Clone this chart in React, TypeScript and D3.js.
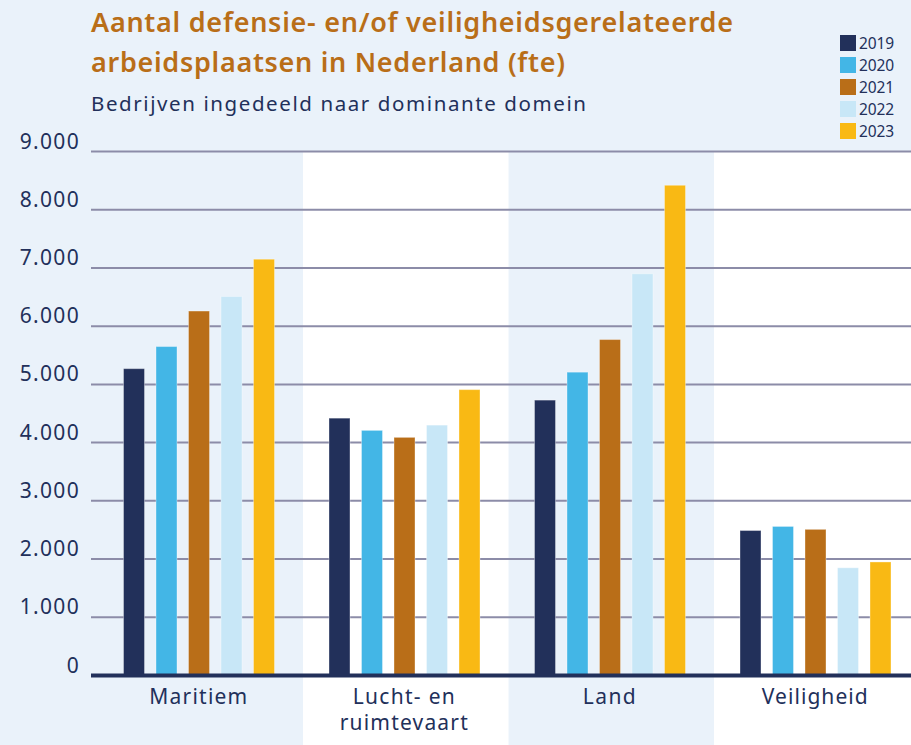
import React from "react";
import * as d3 from "d3";

const categories = ["Maritiem", "Lucht- en ruimtevaart", "Land", "Veiligheid"];
const categoryLabelLines = [["Maritiem"], ["Lucht- en", "ruimtevaart"], ["Land"], ["Veiligheid"]];
const years = ["2019", "2020", "2021", "2022", "2023"];
const values2019 = [5270, 4420, 4730, 2490];
const values2020 = [5650, 4210, 5210, 2560];
const values2021 = [6260, 4090, 5770, 2510];
const values2022 = [6510, 4300, 6900, 1850];
const values2023 = [7150, 4910, 8420, 1950];
const seriesValues = [values2019, values2020, values2021, values2022, values2023];
const yTicks = [0, 1000, 2000, 3000, 4000, 5000, 6000, 7000, 8000, 9000];
const yTickLabels = ["0", "1.000", "2.000", "3.000", "4.000", "5.000", "6.000", "7.000", "8.000", "9.000"];
const colors = ["#22305A", "#43B6E6", "#B96E18", "#C8E7F7", "#F9B914"];
const titleLines = ["Aantal defensie- en/of veiligheidsgerelateerde", "arbeidsplaatsen in Nederland (fte)"];
const subtitle = "Bedrijven ingedeeld naar dominante domein";

const W = 911;
const H = 745;
const NAVY = "#22305A";
const FONT = "'Noto Sans', sans-serif";

// approximate rendered widths of the labels in the reference typeface
const labelWidths: Record<string, number> = {
  "Maritiem": 98,
  "Lucht- en": 102,
  "ruimtevaart": 128,
  "Land": 53,
  "Veiligheid": 106,
};

export default function App() {
  const y = d3.scaleLinear().domain([0, 9000]).range([675.5, 151.5]);
  const x0 = d3.scaleBand().domain(categories).range([97.5, 919.5]).paddingInner(0).paddingOuter(0);
  const x1 = d3.scaleBand().domain(years).range([26, 177]).paddingInner(0.354).paddingOuter(0);

  return (
    <svg width={W} height={H} style={{ position: "absolute", left: 0, top: 0, fontFamily: FONT }}>
      <rect x={0} y={0} width={W} height={H} fill="#EAF2FA" />
      {categories.map((c, i) =>
        i % 2 === 1 ? (
          <rect key={c} x={x0(c)!} y={y(9000)} width={x0.bandwidth()} height={H - y(9000)} fill="#FFFFFF" />
        ) : null
      )}
      {yTicks.slice(1).map((t) => (
        <line key={t} x1={91} x2={W} y1={y(t)} y2={y(t)} stroke="#8C8CA8" strokeWidth={2} />
      ))}
      {yTicks.map((t, i) => (
        <text key={t} x={80} y={y(t) - 3} textAnchor="end" fontSize={21} fill={NAVY} letterSpacing={1.3}>
          {yTickLabels[i]}
        </text>
      ))}
      {categories.map((c, ci) =>
        years.map((yr, si) => {
          const v = seriesValues[si][ci];
          return (
            <rect
              key={c + yr}
              x={x0(c)! + x1(yr)!}
              y={y(v)}
              width={x1.bandwidth()}
              height={y(0) - y(v)}
              fill={colors[si]}
              stroke="#ffffff"
              strokeOpacity={0.35}
              strokeWidth={1}
            />
          );
        })
      )}
      <line x1={91} x2={W} y1={y(0)} y2={y(0)} stroke={NAVY} strokeWidth={4} />
      {categories.map((c, ci) => {
        const cx = x0(c)! + x0.bandwidth() / 2 - 2;
        return categoryLabelLines[ci].map((ln, li) => (
          <text
            key={c + li}
            x={cx}
            y={704 + li * 26}
            textAnchor="middle"
            fontSize={21}
            fill={NAVY}
            textLength={labelWidths[ln]}
            lengthAdjust="spacing"
          >
            {ln}
          </text>
        ));
      })}
      <text x={91} y={32} fontSize={27} fontWeight={600} fill="#B96E18" textLength={642} lengthAdjust="spacing">
        {titleLines[0]}
      </text>
      <text x={91} y={72} fontSize={27} fontWeight={600} fill="#B96E18" textLength={474} lengthAdjust="spacing">
        {titleLines[1]}
      </text>
      <text x={91} y={111} fontSize={20.5} fill={NAVY} textLength={495} lengthAdjust="spacing">
        {subtitle}
      </text>
      {years.map((yr, i) => (
        <g key={yr} transform={`translate(840, ${35 + i * 22})`}>
          <rect x={0} y={0} width={16} height={16} fill={colors[i]} />
          <text x={19} y={14} fontSize={15.5} fill={NAVY} textLength={35} lengthAdjust="spacing">{yr}</text>
        </g>
      ))}
    </svg>
  );
}
